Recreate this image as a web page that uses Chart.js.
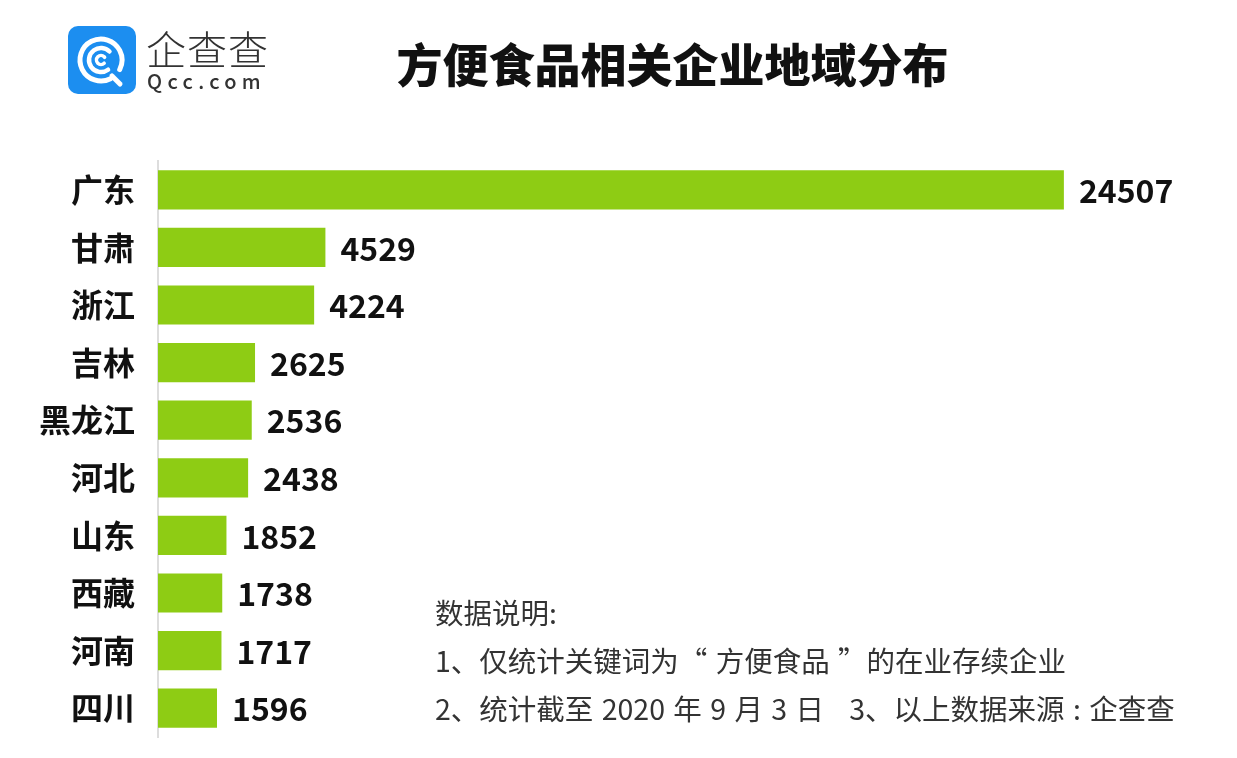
<!DOCTYPE html>
<html>
<head>
<meta charset="utf-8">
<script src="https://cdn.jsdelivr.net/npm/chart.js@4.4.0/dist/chart.umd.min.js"></script>
<style>
  body { margin: 0; background: #fff; }
  #wrap { position: relative; width: 1237px; height: 758px; }
  .title { position: absolute; left: 0; width: 1345px; top: 29px; text-align: center;
    font: 900 46px "Noto Sans CJK SC"; color: #111; }
  .logo-box { position: absolute; left: 68px; top: 26px; }
  .logo-cn { position: absolute; left: 146px; top: 19px; font: 300 40px "Noto Sans CJK SC"; color: #333; letter-spacing: 1px; }
  .logo-en { position: absolute; left: 147px; top: 66px; font: 500 20px "Noto Sans CJK SC"; color: #333; letter-spacing: 5.3px; }
  .notes { position: absolute; left: 435px; top: 588px; font: 28.5px "Noto Sans CJK SC"; color: #333;
    line-height: 48px; white-space: pre; word-spacing: 2px; }
</style>
</head>
<body>
<div id="wrap">
  <canvas id="regionchart" width="1237" height="758"></canvas>
  <canvas class="logo-box" id="logo" width="68" height="68"></canvas>
  <div class="logo-cn">企查查</div>
  <div class="logo-en">Qcc.com</div>
  <div class="title">方便食品相关企业地域分布</div>
  <div class="notes">数据说明:
1、仅统计关键词为“ 方便食品 ”的在业存续企业
2、统计截至 2020 年 9 月 3 日   3、以上数据来源 : 企查查</div>
</div>
<script>
const regions = ['广东', '甘肃', '浙江', '吉林', '黑龙江', '河北', '山东', '西藏', '河南', '四川'];
const counts = [24507, 4529, 4224, 2625, 2536, 2438, 1852, 1738, 1717, 1596];

function drawLogo() {
    const c = document.getElementById('logo').getContext('2d');
    c.fillStyle = '#1c8ef0';
    c.beginPath();
    c.roundRect(0, 0, 68, 68, 10);
    c.fill();
    c.strokeStyle = '#fff';
    c.lineCap = 'round';
    c.lineWidth = 5;
    c.beginPath();
    c.arc(33, 34, 21, 0.35 * Math.PI, 2.15 * Math.PI);
    c.stroke();
    c.beginPath();
    c.moveTo(44, 50);
    c.lineTo(52, 58);
    c.stroke();
    c.lineWidth = 4.5;
    c.beginPath();
    c.arc(33, 34, 12, 0.3 * Math.PI, 1.75 * Math.PI);
    c.stroke();
    c.lineWidth = 3.5;
    c.beginPath();
    c.arc(33, 34, 4.5, 0.25 * Math.PI, 1.8 * Math.PI);
    c.stroke();
}
drawLogo();

const valueLabels = {
    id: 'valueLabels',
    afterDatasetsDraw(chart) {
        const ctx = chart.ctx;
        const meta = chart.getDatasetMeta(0);
        ctx.save();
        ctx.font = 'bold 32px "Noto Sans CJK SC"';
        ctx.fillStyle = '#111';
        ctx.textBaseline = 'middle';
        meta.data.forEach((bar, i) => {
            ctx.fillText(counts[i], bar.x + 15, bar.y + 1);
        });
        ctx.restore();
    }
};

new Chart(document.getElementById('regionchart'), {
    type: 'bar',
    data: {
        labels: regions,
        datasets: [{
            data: counts,
            backgroundColor: '#8ecc14',
            barPercentage: 1,
            categoryPercentage: 0.68
        }]
    },
    options: {
        indexAxis: 'y',
        responsive: false,
        animation: false,
        layout: { padding: { top: 161, bottom: 21, right: 44, left: 0 } },
        plugins: { legend: { display: false }, tooltip: { enabled: false } },
        scales: {
            x: { display: false, min: 0, max: 28000 },
            y: {
                afterFit(scale) {
                    scale.width = 158;
                    scale.paddingTop = 0;
                    scale.paddingBottom = 0;
                },
                grid: { display: false },
                border: { display: true, color: '#dddddd', width: 2 },
                ticks: {
                    padding: 15,
                    color: '#111',
                    font: { family: 'Noto Sans CJK SC', size: 32, weight: 'bold' }
                }
            }
        }
    },
    plugins: [valueLabels]
});
</script>
</body>
</html>
